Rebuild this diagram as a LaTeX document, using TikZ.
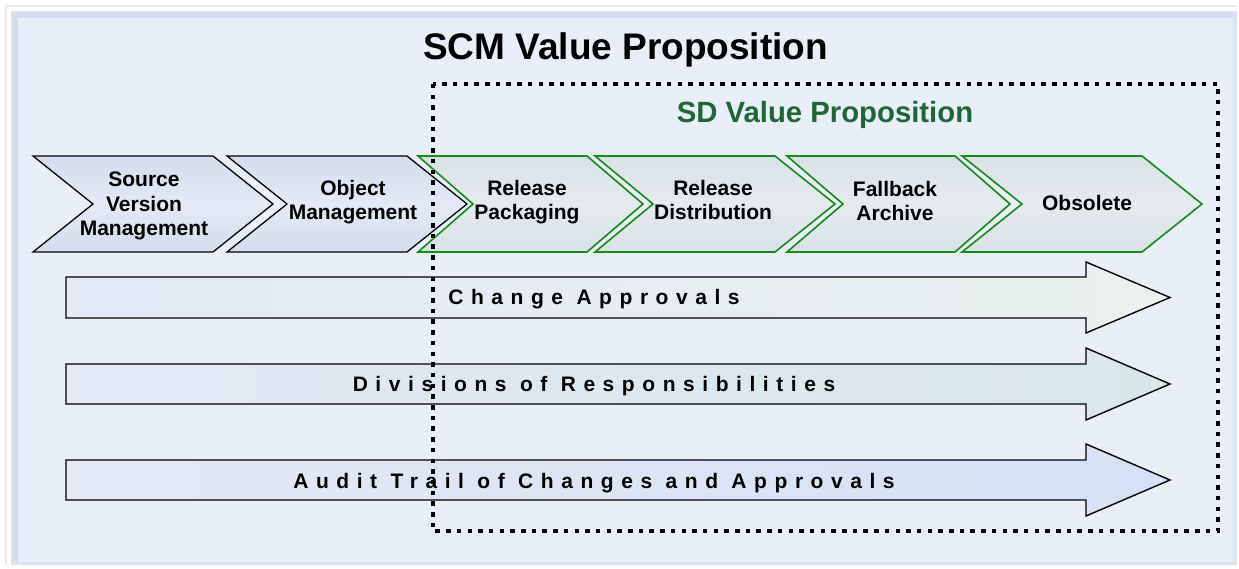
\documentclass[tikz,border=0pt]{standalone}
\usepackage{fontspec}
\setmainfont{Liberation Sans}
\newfontfamily\spacedfont[LetterSpace=36,WordSpace=1.0]{Liberation Sans}
\definecolor{panel}{HTML}{E9EFF9}
\definecolor{bandA}{HTML}{DDE2F2}
\definecolor{bandB}{HTML}{D4DBF0}
\definecolor{faint}{HTML}{E8E9F2}
\definecolor{chevedge}{HTML}{D3DCEE}
\definecolor{chevmid}{HTML}{E4EAF5}
\definecolor{gchevedge}{HTML}{D9E1E8}
\definecolor{gchevmid}{HTML}{E5EBEF}
\definecolor{gline}{HTML}{168A16}
\definecolor{sdgreen}{HTML}{1E6636}
\definecolor{arrowleft}{HTML}{E3E9F5}
\definecolor{arrowAright}{HTML}{EAF1EF}
\definecolor{arrowBright}{HTML}{D8E6EA}
\definecolor{arrowCright}{HTML}{D6E1F6}
\begin{document}
\begin{tikzpicture}[x=1pt,y=-1pt,
  chevblack/.style={draw=black, line width=1.3pt, top color=chevedge, bottom color=chevedge, middle color=chevmid},
  chevgreen/.style={draw=gline, line width=1.6pt, top color=gchevedge, bottom color=gchevedge, middle color=gchevmid},
  chevtext/.style={inner sep=0pt, align=center, font=\fontsize{21}{24.5}\selectfont\bfseries},
  longarrow/.style={draw=black, line width=1.4pt, left color=arrowleft},
  arrowtext/.style={inner sep=0pt, anchor=base, font=\fontsize{21}{24}\spacedfont\bfseries},
  sdbox/.style={draw=black, line width=4.5pt, dash pattern=on 4.5pt off 6.2pt}
]
\useasboundingbox (0,0) rectangle (1239,569);
\fill[white] (0,0) rectangle (1239,569);
% frame
\fill[faint] (5,5) rectangle (1237,565);
\fill[white] (7,7) rectangle (1237,565);
\fill[bandA] (11,11) rectangle (1237,565);
\fill[bandB] (13,13) rectangle (1233,562);
\fill[panel] (18,18) rectangle (1233,562);

% title
\node[inner sep=0pt, anchor=base, font=\fontsize{37}{44}\selectfont\bfseries] (title) at (625.5,60) {SCM Value Proposition};
\node[inner sep=0pt, anchor=base, text=sdgreen, font=\fontsize{29.3}{35}\selectfont\bfseries] (sdtitle) at (825,123) {SD Value Proposition};

% chevrons
\path[chevblack] (33,156) -- (213,156) -- (273,204) -- (213,252) -- (33,252) -- (93,204) -- cycle;
\path[chevblack] (227,156) -- (407,156) -- (467,204) -- (407,252) -- (227,252) -- (287,204) -- cycle;
\path[chevgreen] (418,156) -- (587,156) -- (643,204) -- (587,252) -- (418,252) -- (473,204) -- cycle;
\path[chevgreen] (595,156) -- (775,156) -- (835,204) -- (775,252) -- (595,252) -- (653,204) -- cycle;
\path[chevgreen] (787,156) -- (955,156) -- (1010,204) -- (955,252) -- (787,252) -- (843,204) -- cycle;
\path[chevgreen] (962,156) -- (1142,156) -- (1202,204) -- (1142,252) -- (962,252) -- (1022,204) -- cycle;

\node[chevtext] (svm) at (144,206.2) {Source\\Version\\Management};
\node[chevtext] (om) at (353,202.2) {Object\\Management};
\node[chevtext] (rp) at (527,202.2) {Release\\Packaging};
\node[chevtext] (rd) at (713,200) {Release\\Distribution};
\node[chevtext] (fa) at (895,201) {Fallback\\Archive};
\node[chevtext, anchor=base] (ob) at (1087,211) {Obsolete};

% long arrows
\path[longarrow, right color=arrowAright] (66,277) -- (1086,277) -- (1086,262) -- (1170,297.5) -- (1086,333) -- (1086,318) -- (66,318) -- cycle;
\path[longarrow, right color=arrowBright] (66,364) -- (1086,364) -- (1086,348) -- (1170,384) -- (1086,420) -- (1086,404) -- (66,404) -- cycle;
\path[longarrow, right color=arrowCright] (66,460) -- (1086,460) -- (1086,444) -- (1170,480) -- (1086,516) -- (1086,500) -- (66,500) -- cycle;

\node[arrowtext] (ca) at (594,305) {Change Approvals};
\node[arrowtext] (dr) at (594,391) {Divisions of Responsibilities};
\node[arrowtext] (at) at (594,488) {Audit Trail of Changes and Approvals};

% SD dotted box
\draw[sdbox] (433,84) rectangle (1218,531);
\end{tikzpicture}
\end{document}
